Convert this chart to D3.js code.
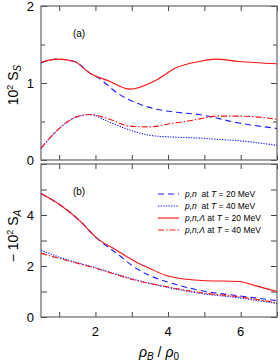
<!DOCTYPE html>
<html>
<head>
<meta charset="utf-8">
<script src="https://cdn.jsdelivr.net/npm/d3@7"></script>
<style>
    body { margin: 0; background: #fff; }
    text { font-family: "Liberation Sans", Arial, sans-serif; }
</style>
</head>
<body>
<svg id="chart" width="280" height="361"></svg>
<script>
// panel (a): S_S, panel (b): -S_A, in units of 10^-2
var ssRho20 = [0.5, 0.94, 1.42, 1.84, 2.4, 2.94, 3.68, 4.23, 4.86, 5.3, 5.95, 7];
var ssPnL20 = [1.27, 1.31, 1.28, 1.13, 1.02, 0.92, 1.04, 1.2, 1.28, 1.31, 1.28, 1.25];
var ssRhoPn20 = [0.5, 0.94, 1.42, 1.84, 2.1, 2.6, 3.13, 3.68, 4.23, 4.86, 5.95, 7];
var ssPn20 = [1.26, 1.31, 1.28, 1.13, 1.06, 0.87, 0.74, 0.66, 0.62, 0.59, 0.48, 0.41];
var ssRho40 = [0.5, 0.77, 1.1, 1.48, 1.84, 2.39, 2.94, 3.5, 4.04, 4.6, 5.04, 5.3, 5.95, 7];
var ssPnL40 = [0.15, 0.30, 0.45, 0.56, 0.59, 0.53, 0.44, 0.43, 0.47, 0.51, 0.55, 0.57, 0.57, 0.53];
var ssPn40 = [0.15, 0.30, 0.45, 0.56, 0.59, 0.49, 0.39, 0.32, 0.30, 0.29, 0.28, 0.27, 0.25, 0.19];

var saRho = [0.5, 1.02, 1.57, 2.03, 2.58, 3.13, 3.5, 3.95, 4.93, 5.95, 6.4, 7];
var saPnL20 = [4.84, 4.4, 3.77, 3.1, 2.62, 2.15, 1.9, 1.63, 1.43, 1.39, 1.23, 1.0];
var saPn20 = [4.84, 4.4, 3.77, 3.1, 2.5, 1.9, 1.62, 1.39, 1.03, 0.83, 0.75, 0.64];
var saRho40 = [0.5, 1.0, 2.03, 3.13, 3.95, 4.93, 5.95, 7];
var saPnL40 = [2.5, 2.3, 1.9, 1.43, 1.19, 0.95, 0.79, 0.56];
var saPn40 = [2.62, 2.35, 1.92, 1.45, 1.17, 0.92, 0.75, 0.53];

var xTicks = [2, 4, 6];
var topTicks = [0, 1, 2];
var botTicks = [0, 2, 4];

var legendLabels = [
    ["p,n", "  at ", "T", " = 20 MeV"],
    ["p,n", "  at ", "T", " = 40 MeV"],
    ["p,n,Λ", " at ", "T", " = 20 MeV"],
    ["p,n,Λ", " at ", "T", " = 40 MeV"]
];

var styles = [
    { color: "#1a1aff", dash: "6,4" },
    { color: "#1a1aff", dash: "1.3,1.3" },
    { color: "#ff1010", dash: null },
    { color: "#ff1010", dash: "6,2,1.5,2" }
];

var svg = d3.select("svg#chart"),
    left = 41, right = 277,
    x = d3.scaleLinear().domain([0.5, 7]).range([left, right]),
    yTop = d3.scaleLinear().domain([0, 2]).range([160, 6]),
    yBot = d3.scaleLinear().domain([0, 6]).range([317, 164]);

function drawPanel(y, yMinor, yLabels, panelLabel, series) {
    var g = svg.append("g");
    var y0 = y.range()[0], y1 = y.range()[1];

    // ticks, inward on all four sides
    var xMinor = d3.range(1, 7.01, 1);
    g.append("g")
        .attr("transform", "translate(0," + y0 + ")")
        .call(d3.axisBottom(x).tickValues(xMinor).tickSizeInner(-5).tickSizeOuter(0).tickFormat(""));
    g.append("g")
        .attr("transform", "translate(0," + y1 + ")")
        .call(d3.axisTop(x).tickValues(xMinor).tickSizeInner(-5).tickSizeOuter(0).tickFormat(""));
    var yMaj = y.ticks(yMinor.length ? 2 : 6).filter(function (v) { return Math.abs(v % 1) < 1e-9; });
    [left, right].forEach(function (px, i) {
        var ax = i == 0 ? d3.axisLeft(y) : d3.axisRight(y);
        g.append("g")
            .attr("transform", "translate(" + px + ",0)")
            .call(ax.tickValues(yMaj).tickSizeInner(-6).tickSizeOuter(0).tickFormat(""));
        if (yMinor.length) {
            var ax2 = i == 0 ? d3.axisLeft(y) : d3.axisRight(y);
            g.append("g")
                .attr("transform", "translate(" + px + ",0)")
                .call(ax2.tickValues(yMinor).tickSizeInner(-4).tickSizeOuter(0).tickFormat(""));
        }
    });
    g.selectAll(".domain").remove();
    g.selectAll(".tick line").attr("stroke", "#444");

    g.append("rect")
        .attr("x", left).attr("y", y1)
        .attr("width", right - left).attr("height", y0 - y1)
        .attr("fill", "none").attr("stroke", "#666").attr("stroke-width", 1.2);

    g.selectAll(".ylab")
        .data(yLabels)
        .enter()
        .append("text")
        .attr("x", 34)
        .attr("y", function (d) { return y(d) + 4.5; })
        .attr("text-anchor", "end")
        .style("font-size", "13px")
        .text(function (d) { return d; });

    g.append("text")
        .attr("x", 79).attr("y", y1 + 31)
        .attr("text-anchor", "middle")
        .style("font-size", "10px")
        .text(panelLabel);

    var line = d3.line()
        .x(function (d) { return x(d[0]); })
        .y(function (d) { return y(d[1]); })
        .curve(d3.curveMonotoneX);

    series.forEach(function (s, i) {
        var pts = s.rho.map(function (r, j) { return [r, s.v[j]]; });
        g.append("path")
            .attr("d", line(pts))
            .attr("fill", "none")
            .attr("stroke", styles[s.style].color)
            .attr("stroke-width", 1.1)
            .attr("stroke-dasharray", styles[s.style].dash);
    });
    return g;
}

drawPanel(yTop, [0.5, 1.5], topTicks, "(a)", [
    { rho: ssRhoPn20, v: ssPn20, style: 0 },
    { rho: ssRho40, v: ssPn40, style: 1 },
    { rho: ssRho40, v: ssPnL40, style: 3 },
    { rho: ssRho20, v: ssPnL20, style: 2 }
]);

drawPanel(yBot, [], botTicks, "(b)", [
    { rho: saRho, v: saPn20, style: 0 },
    { rho: saRho40, v: saPn40, style: 1 },
    { rho: saRho40, v: saPnL40, style: 3 },
    { rho: saRho, v: saPnL20, style: 2 }
]);

// x tick labels
svg.selectAll(".xlab")
    .data(xTicks)
    .enter()
    .append("text")
    .attr("x", function (d) { return x(d); })
    .attr("y", 336)
    .attr("text-anchor", "middle")
    .style("font-size", "13px")
    .text(function (d) { return d; });

// x axis title
var xt = svg.append("text")
    .attr("x", 159).attr("y", 357)
    .attr("text-anchor", "middle")
    .style("font-size", "14px");
xt.append("tspan").style("font-style", "italic").text("ρ");
xt.append("tspan").attr("dy", 3).style("font-size", "10px").style("font-style", "italic").text("B");
xt.append("tspan").attr("dy", -3).text(" / ");
xt.append("tspan").style("font-style", "italic").text("ρ");
xt.append("tspan").attr("dy", 3).style("font-size", "10px").text("0");

// y axis titles
var yt1 = svg.append("text")
    .attr("transform", "translate(18,85) rotate(-90)")
    .attr("text-anchor", "middle")
    .style("font-size", "14px");
yt1.append("tspan").text("10");
yt1.append("tspan").attr("dy", -5).style("font-size", "9px").text("2");
yt1.append("tspan").attr("dy", 5).text(" S");
yt1.append("tspan").attr("dy", 3).style("font-size", "10px").style("font-style", "italic").text("S");

var yt2 = svg.append("text")
    .attr("transform", "translate(18,236) rotate(-90)")
    .attr("text-anchor", "middle")
    .style("font-size", "14px");
yt2.append("tspan").text("\u2212  10");
yt2.append("tspan").attr("dy", -5).style("font-size", "9px").text("2");
yt2.append("tspan").attr("dy", 5).text(" S");
yt2.append("tspan").attr("dy", 3).style("font-size", "10px").style("font-style", "italic").text("A");

// legend
var legend = svg.append("g").attr("class", "legend");
var rowY = [194, 206, 218, 230];
legendLabels.forEach(function (lab, i) {
    legend.append("line")
        .attr("x1", 158).attr("x2", 179)
        .attr("y1", rowY[i]).attr("y2", rowY[i])
        .attr("stroke", styles[i].color)
        .attr("stroke-width", 1.1)
        .attr("stroke-dasharray", styles[i].dash);
    var t = legend.append("text")
        .attr("x", 185).attr("y", rowY[i] + 3)
        .style("font-size", "8.5px")
        .attr("xml:space", "preserve")
        .style("white-space", "pre");
    t.append("tspan").style("font-style", "italic").text(lab[0]);
    t.append("tspan").text(lab[1]);
    t.append("tspan").style("font-style", "italic").text(lab[2]);
    t.append("tspan").text(lab[3]);
});
</script>
</body>
</html>
